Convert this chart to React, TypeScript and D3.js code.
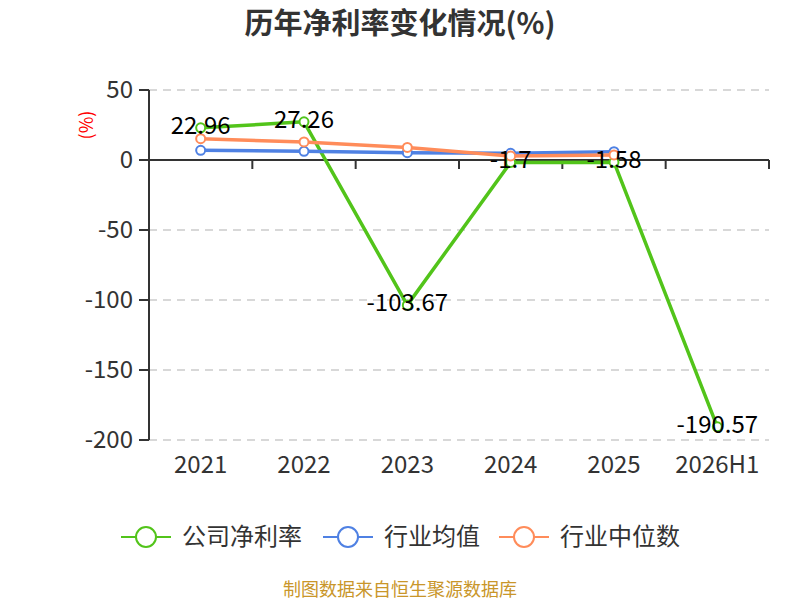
import React from "react";
import * as d3 from "d3";

const categories = ["2021", "2022", "2023", "2024", "2025", "2026H1"];
const companyNetMargin: (number | null)[] = [22.96, 27.26, -103.67, -1.7, -1.58, -190.57];
const industryAverage: (number | null)[] = [6.9, 6.2, 5.2, 4.8, 5.9, null];
const industryMedian: (number | null)[] = [15.2, 12.9, 9.0, 2.9, 3.6, null];
const yTicks = [50, 0, -50, -100, -150, -200];

const seriesNames = ["公司净利率", "行业均值", "行业中位数"];
const seriesColors = ["#52c41a", "#4f81e3", "#ff8c5a"];

const W = 800;
const H = 600;
const FONT = "'Noto Sans CJK SC', 'Noto Sans', sans-serif";

export default function App() {
  const x = d3.scaleBand<string>().domain(categories).range([149, 769]).paddingInner(0).paddingOuter(0);
  const y = d3.scaleLinear().domain([-200, 50]).range([440, 90]);
  const cx = (c: string) => (x(c) as number) + x.bandwidth() / 2;

  const series = [companyNetMargin, industryAverage, industryMedian];
  const line = d3
    .line<{ c: string; v: number | null }>()
    .defined((d) => d.v !== null)
    .x((d) => cx(d.c))
    .y((d) => y(d.v as number));

  const legendX = [121, 323, 499];
  const legendY = 537;

  return (
    <svg width={W} height={H} style={{ display: "block", position: "absolute", left: 0, top: 0 }}>
      <rect width={W} height={H} fill="#fff" />
      <text x={400} y={34} textAnchor="middle" fontFamily={FONT} fontSize={29} fontWeight="bold" fill="#333">
        历年净利率变化情况(%)
      </text>
      <text
        transform={`translate(93,125) rotate(-90)`}
        textAnchor="middle"
        fontFamily={FONT}
        fontSize={18}
        fill="#ff0000"
      >
        (%)
      </text>

      {/* grid lines */}
      {yTicks
        .filter((t) => t !== 0)
        .map((t) => (
          <line
            key={"g" + t}
            x1={149}
            x2={769}
            y1={y(t)}
            y2={y(t)}
            stroke="#cccccc"
            strokeWidth={1.5}
            strokeDasharray="8,6"
          />
        ))}

      {/* y axis */}
      <line x1={149} x2={149} y1={y(50)} y2={y(-200)} stroke="#333" strokeWidth={2} />
      {yTicks.map((t) => (
        <g key={"yt" + t}>
          <line x1={139} x2={149} y1={y(t)} y2={y(t)} stroke="#333" strokeWidth={2} />
          <text
            x={133}
            y={y(t)}
            dy="0.35em"
            textAnchor="end"
            fontFamily={FONT}
            fontSize={24}
            fill="#333"
          >
            {t}
          </text>
        </g>
      ))}

      {/* x axis at zero */}
      <line x1={149} x2={769} y1={y(0)} y2={y(0)} stroke="#333" strokeWidth={2} />
      {categories.map((c) => (
        <line
          key={"xt" + c}
          x1={(x(c) as number) + x.bandwidth()}
          x2={(x(c) as number) + x.bandwidth()}
          y1={y(0)}
          y2={y(0) + 9}
          stroke="#333"
          strokeWidth={2}
        />
      ))}
      {categories.map((c) => (
        <text
          key={"xl" + c}
          x={cx(c)}
          y={465}
          dy="0.35em"
          textAnchor="middle"
          fontFamily={FONT}
          fontSize={24}
          fill="#333"
        >
          {c}
        </text>
      ))}

      {/* lines */}
      {series.map((s, i) => {
        const data = categories.map((c, j) => ({ c, v: s[j] }));
        return (
          <g key={"s" + i}>
            <path d={line(data) || ""} fill="none" stroke={seriesColors[i]} strokeWidth={3.5} strokeLinejoin="round" />
            {data
              .filter((d) => d.v !== null)
              .map((d) => (
                <circle
                  key={d.c}
                  cx={cx(d.c)}
                  cy={y(d.v as number)}
                  r={4.5}
                  fill="#fff"
                  stroke={seriesColors[i]}
                  strokeWidth={2}
                />
              ))}
          </g>
        );
      })}

      {/* data labels */}
      {categories.map((c, j) => {
        const v = companyNetMargin[j];
        if (v === null) return null;
        return (
          <text
            key={"dl" + c}
            x={cx(c)}
            y={y(v) + 6}
            textAnchor="middle"
            fontFamily={FONT}
            fontSize={24}
            fill="#000"
          >
            {v}
          </text>
        );
      })}

      {/* legend */}
      {seriesNames.map((n, i) => (
        <g key={"lg" + i}>
          <line x1={legendX[i]} x2={legendX[i] + 50} y1={legendY} y2={legendY} stroke={seriesColors[i]} strokeWidth={2} />
          <circle cx={legendX[i] + 25} cy={legendY} r={10} fill="#fff" stroke={seriesColors[i]} strokeWidth={2} />
          <text
            x={legendX[i] + 61}
            y={legendY}
            dy="0.35em"
            fontFamily={FONT}
            fontSize={24}
            fill="#333"
          >
            {n}
          </text>
        </g>
      ))}

      <text x={400} y={590} dy="0.35em" textAnchor="middle" fontFamily={FONT} fontSize={18} fill="#c9962a">
        制图数据来自恒生聚源数据库
      </text>
    </svg>
  );
}
